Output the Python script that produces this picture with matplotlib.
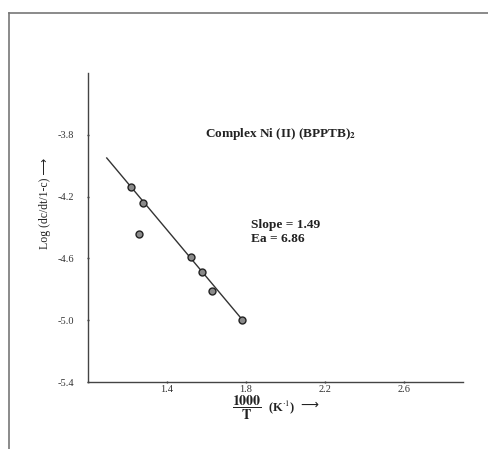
import matplotlib
matplotlib.use('Agg')
import matplotlib.pyplot as plt
from matplotlib.lines import Line2D

# data
inv_T = [1.22, 1.281, 1.259, 1.523, 1.578, 1.628, 1.781]
log_rate = [-4.14, -4.24, -4.44, -4.59, -4.69, -4.81, -5.00]
fit_x = [1.095, 1.793]
fit_y = [-3.95, -5.014]
xticks = [1.4, 1.8, 2.2, 2.6]
yticks = [-3.8, -4.2, -4.6, -5.0, -5.4]

plt.rcParams['font.family'] = ['Liberation Serif', 'DejaVu Sans']
plt.rcParams['mathtext.fontset'] = 'stix'

fig = plt.figure(figsize=(4.89, 4.49), dpi=100)
ax = fig.add_axes([88/489, 67/449, 375/489, 309/449])

ax.plot(fit_x, fit_y, color='#333333', lw=1.0)
ax.plot(inv_T, log_rate, 'o', ms=5, mfc='#8a8a8a', mec='#222222', mew=1.0)

ax.set_xlim(1.0, 2.9)
ax.set_ylim(-5.4, -3.4)
ax.set_xticks(xticks)
ax.set_xticklabels(['%.1f' % v for v in xticks])
ax.set_yticks(yticks)
ax.set_yticklabels(['%.1f' % v for v in yticks])
ax.tick_params(direction='inout', length=2, width=1, labelsize=7.5,
               colors='#333333')
ax.tick_params(axis='y', pad=9)
ax.tick_params(axis='x', pad=1)
for s in ['top', 'right']:
    ax.spines[s].set_visible(False)
for s in ['left', 'bottom']:
    ax.spines[s].set_color('#444444')
    ax.spines[s].set_linewidth(1.0)

ax.text(1.595, -3.795, r'Complex Ni (II) (BPPTB)$_\mathbf{2}$', fontsize=9.5,
        fontweight='bold', color='#222222', va='center')
ax.text(1.828, -4.43, 'Slope = 1.49\nEa = 6.86', fontsize=9.6, fontweight='bold',
        color='#222222', va='center', linespacing=1.2)

fig.text(45/489, 1 - 203/449, 'Log (dc/dt/1-c) \u27f6', rotation=90,
         fontsize=8.5, color='#222222', ha='center', va='center')

# x label: fraction, unit, arrow
fig.text(247/489, 1 - 408/449, r'$\mathbf{\dfrac{1000}{T}}$',
         fontsize=10, color='#222222', ha='center', va='center')
fig.text(268/489, 1 - 407/449, r'(K$^{\cdot 1}$)',
         fontsize=9, fontweight='bold', color='#222222', ha='left', va='center')
fig.text(300/489, 1 - 406/449, '\u27f6',
         fontsize=9, color='#222222', ha='left', va='center')

# outer frame (top and left only)
fig.add_artist(Line2D([9/489, 1], [1 - 12.5/449, 1 - 12.5/449], color='#777777', lw=1.2))
fig.add_artist(Line2D([9/489, 9/489], [0, 1 - 12.5/449], color='#777777', lw=1.2))

fig.savefig('out.png', dpi=100)
